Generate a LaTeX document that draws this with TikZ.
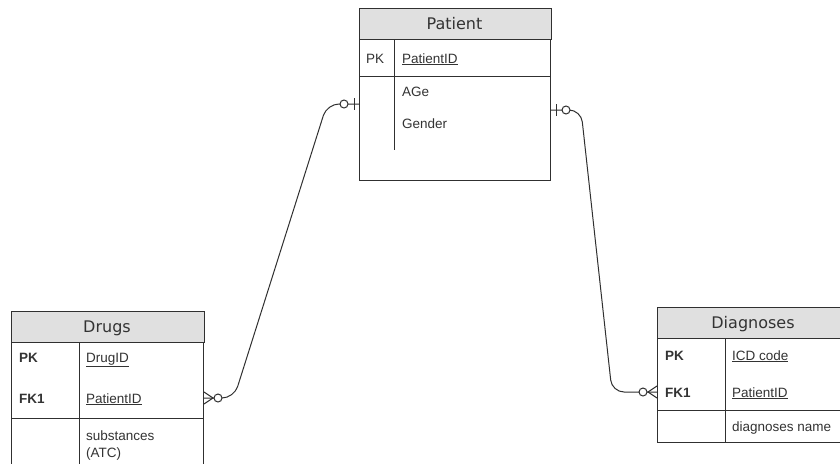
\documentclass[tikz,border=0pt]{standalone}
\usepackage{fontspec}
\setmainfont{Liberation Sans}
\newfontfamily\headfont{DejaVu Sans}
\usetikzlibrary{calc}
\definecolor{ink}{HTML}{303030}
\definecolor{head}{HTML}{E0E0E0}
\definecolor{txt}{HTML}{333333}
\tikzset{
  tbl/.style={draw=ink, line width=1pt, fill=white, inner sep=0pt, anchor=north west},
  hdrow/.style={draw=ink, line width=1pt, fill=head},
  rule/.style={draw=ink, line width=1pt},
  hd/.style={font=\headfont\fontsize{16}{18}\selectfont, text=txt, inner sep=0pt, anchor=base},
  fld/.style={font=\fontsize{13.5}{15}\selectfont, text=txt, inner sep=0pt, anchor=base west},
  key/.style={fld, font=\fontsize{13.5}{15}\selectfont\bfseries},
  rel/.style={draw=ink, line width=1pt, rounded corners=12pt},
  endtick/.style={draw=ink, line width=1pt},
  ring/.style={draw=ink, line width=1pt, fill=white}
}
\begin{document}
\begin{tikzpicture}[x=1pt, y=-1pt]
\clip (0,0) rectangle (840,463);
\fill[white] (0,0) rectangle (840,463);

% ---------- Patient ----------
\node[tbl, minimum width=191pt, minimum height=172pt] (patient) at (359,8) {};
\path[hdrow] (patient.north west) rectangle ($(patient.north east)+(0,31)$);
\draw[rule] ($(patient.north west)+(0,68)$) -- ($(patient.north east)+(0,68)$);
\draw[rule] ($(patient.north west)+(35,31)$) -- ($(patient.north west)+(35,142)$);
\node[hd] (ptitle) at (454.5,29.3) {Patient};
\node[fld] (ppk) at (366,63) {PK};
\node[fld] (pid) at (402,63) {\underline{PatientID}};
\node[fld] (page) at (402,96) {AGe};
\node[fld] (pgen) at (402,128) {Gender};

% ---------- Drugs ----------
\node[tbl, minimum width=192pt, minimum height=160pt] (drugs) at (11,311) {};
\path[hdrow] (drugs.north west) rectangle ($(drugs.north east)+(0,31)$);
\draw[rule] ($(drugs.north west)+(0,107)$) -- ($(drugs.north east)+(0,107)$);
\draw[rule] ($(drugs.north west)+(68,31)$) -- ($(drugs.north west)+(68,160)$);
\node[hd] (dtitle) at (107,332.5) {Drugs};
\node[key] (dpk) at (19,362) {PK};
\node[fld] (did) at (86,362) {\underline{DrugID}};
\node[key] (dfk) at (19,403) {FK1};
\node[fld] (dpid) at (86,403) {\underline{PatientID}};
\node[fld] (dsub) at (86,440.5) {substances};
\node[fld] (datc) at (86,457.5) {(ATC)};

% ---------- Diagnoses ----------
\node[tbl, minimum width=192pt, minimum height=135pt] (diag) at (657,307) {};
\path[hdrow] (diag.north west) rectangle ($(diag.north east)+(0,31)$);
\draw[rule] ($(diag.north west)+(0,103)$) -- ($(diag.north east)+(0,103)$);
\draw[rule] ($(diag.north west)+(68,31)$) -- ($(diag.north west)+(68,135)$);
\node[hd] (gtitle) at (753,328.3) {Diagnoses};
\node[key] (gpk) at (665,360) {PK};
\node[fld] (gid) at (732,360) {\underline{ICD code}};
\node[key] (gfk) at (665,397) {FK1};
\node[fld] (gpid) at (732,397) {\underline{PatientID}};
\node[fld] (gname) at (732,431) {diagnoses name};

% ---------- connector end points ----------
\coordinate (pL) at ($(patient.north west)+(0,96)$);
\coordinate (pR) at ($(patient.north east)+(0,102)$);
\coordinate (dR) at ($(drugs.north east)+(0,87)$);
\coordinate (gL) at ($(diag.north west)+(0,85)$);

% Drugs (many, optional) -- Patient (one, optional)
\draw[rel] (dR) -- ++(30,0) -- (327,104) -- (pL);
\draw[endtick] ($(pL)+(-5,-6)$) -- ($(pL)+(-5,6)$);
\draw[ring] ($(pL)+(-15,0)$) circle (4pt);
\draw[endtick] ($(dR)+(0,-6)$) -- ($(dR)+(9,0)$) -- ($(dR)+(0,6)$);
\draw[ring] ($(dR)+(14,0)$) circle (4pt);

% Patient (one, optional) -- Diagnoses (many, optional)
\draw[rel] (pR) -- ++(30,0) -- (612,392) -- (gL);
\draw[endtick] ($(pR)+(5,-6)$) -- ($(pR)+(5,6)$);
\draw[ring] ($(pR)+(15,0)$) circle (4pt);
\draw[endtick] ($(gL)+(0,-6)$) -- ($(gL)+(-9,0)$) -- ($(gL)+(0,6)$);
\draw[ring] ($(gL)+(-14,0)$) circle (4pt);
\end{tikzpicture}
\end{document}
